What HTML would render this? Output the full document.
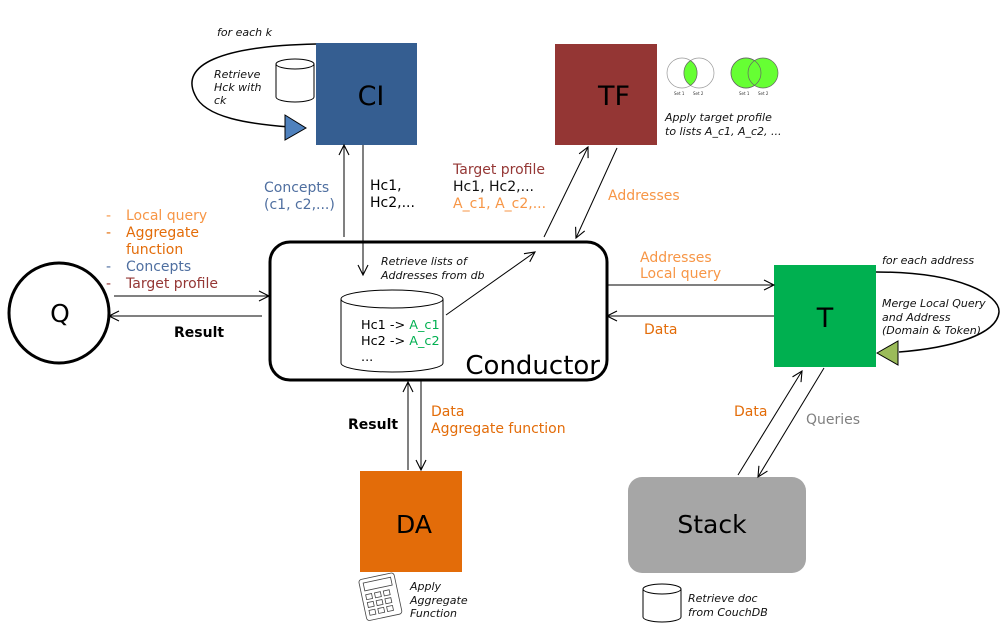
<!DOCTYPE html>
<html><head><meta charset="utf-8"><style>
body{margin:0;background:#fff}
svg{display:block;font-family:"DejaVu Sans","Liberation Sans",sans-serif}
.it{font-style:italic;font-size:11px;fill:#111}
.l{font-size:14px}
</style></head><body>
<svg width="1006" height="639" viewBox="0 0 1006 639">
<defs>
<marker id="a" markerWidth="14" markerHeight="14" refX="11" refY="6" orient="auto" markerUnits="userSpaceOnUse">
<path d="M1,1 L11,6 L1,11" fill="none" stroke="#000" stroke-width="1.1"/></marker>
</defs>
<rect x="0" y="0" width="1006" height="639" fill="#fff"/>

<!-- CI loop -->
<path d="M316,44 C220,46 180,65 195,95 C205,118 250,124 290,127" fill="none" stroke="#000" stroke-width="1.5"/>
<polygon points="285,115 306,128 285,140" fill="#4f81bd" stroke="#000" stroke-width="1"/>
<text x="217" y="36" class="it">for each k</text>
<text class="it"><tspan x="214" y="78">Retrieve</tspan><tspan x="214" y="91">Hck with</tspan><tspan x="214" y="104">ck</tspan></text>
<path d="M276,64 v33 a19,5 0 0 0 38,0 v-33" fill="#fff" stroke="#000"/>
<ellipse cx="295" cy="64" rx="19" ry="5" fill="#fff" stroke="#000"/>
<rect x="316" y="43" width="101" height="102" fill="#355e91"/>
<text x="371" y="105" font-size="27" text-anchor="middle" fill="#000">CI</text>

<!-- TF -->
<rect x="555" y="44" width="102" height="101" fill="#943634"/>
<text x="614" y="105" font-size="27" text-anchor="middle" fill="#000">TF</text>
<g stroke="#999" stroke-width="0.7">
<circle cx="682" cy="73" r="15" fill="#fff"/><circle cx="699" cy="73" r="15" fill="none"/>
<path d="M690.5,60.6 A15,15 0 0 1 690.5,85.4 A15,15 0 0 1 690.5,60.6Z" fill="#66ff33" stroke="#666"/>
<circle cx="746" cy="73" r="15" fill="#66ff33" stroke="#666"/><circle cx="763" cy="73" r="15" fill="#66ff33" stroke="#666"/>
<circle cx="746" cy="73" r="15" fill="none" stroke="#666"/>
</g>
<text font-size="4" fill="#333"><tspan x="674" y="95">Set 1</tspan><tspan x="693" y="95">Set 2</tspan><tspan x="739" y="95">Set 1</tspan><tspan x="758" y="95">Set 2</tspan></text>
<text class="it"><tspan x="665" y="121">Apply target profile</tspan><tspan x="665" y="135">to lists A_c1, A_c2, ...</tspan></text>

<!-- Q -->
<circle cx="59" cy="313" r="50" fill="#fff" stroke="#000" stroke-width="3"/>
<text x="60" y="322" font-size="25" text-anchor="middle">Q</text>
<line x1="114" y1="296" x2="269" y2="296" stroke="#000" marker-end="url(#a)"/>
<line x1="262" y1="316" x2="109" y2="316" stroke="#000" marker-end="url(#a)"/>
<text class="l" fill="#f79646" x="106" y="220">-</text><text class="l" fill="#f79646" x="126" y="220">Local query</text>
<text class="l" fill="#e36c09" x="106" y="237">-</text><text class="l" fill="#e36c09" x="126" y="237">Aggregate</text>
<text class="l" fill="#e36c09" x="126" y="254">function</text>
<text class="l" fill="#4f6fa0" x="106" y="271">-</text><text class="l" fill="#4f6fa0" x="126" y="271">Concepts</text>
<text class="l" fill="#953735" x="106" y="288">-</text><text class="l" fill="#953735" x="126" y="288">Target profile</text>
<text x="174" y="337" font-size="14" font-weight="bold">Result</text>

<!-- Conductor -->
<rect x="270" y="242" width="337" height="138" rx="20" fill="#fff" stroke="#000" stroke-width="3"/>
<text x="600" y="374" font-size="26" text-anchor="end">Conductor</text>
<path d="M341,299 v64 a51,9 0 0 0 102,0 v-64" fill="#fff" stroke="#000"/>
<ellipse cx="392" cy="299" rx="51" ry="9" fill="#fff" stroke="#000"/>
<text font-size="12.8"><tspan x="361" y="329">Hc1 -&gt; <tspan fill="#00b050">A_c1</tspan></tspan><tspan x="361" y="345">Hc2 -&gt; <tspan fill="#00b050">A_c2</tspan></tspan><tspan x="361" y="361">...</tspan></text>
<text class="it"><tspan x="381" y="265">Retrieve lists of</tspan><tspan x="381" y="279">Addresses from db</tspan></text>
<line x1="446" y1="315" x2="535" y2="252" stroke="#000" marker-end="url(#a)"/>

<!-- CI arrows -->
<line x1="344" y1="237" x2="344" y2="145" stroke="#000" marker-end="url(#a)"/>
<line x1="363" y1="145" x2="363" y2="275" stroke="#000" marker-end="url(#a)"/>
<text class="l" fill="#4f6fa0"><tspan x="264" y="192">Concepts</tspan><tspan x="264" y="209">(c1, c2,...)</tspan></text>
<text class="l"><tspan x="370" y="190">Hc1,</tspan><tspan x="370" y="207">Hc2,...</tspan></text>

<!-- TF arrows -->
<line x1="544" y1="237" x2="588" y2="147" stroke="#000" marker-end="url(#a)"/>
<line x1="617" y1="148" x2="576" y2="238" stroke="#000" marker-end="url(#a)"/>
<text class="l"><tspan x="453" y="174" fill="#953735">Target profile</tspan><tspan x="453" y="191" fill="#111">Hc1, Hc2,...</tspan><tspan x="453" y="208" fill="#f79646">A_c1, A_c2,...</tspan></text>
<text x="608" y="200" class="l" fill="#f79646">Addresses</text>

<!-- T -->
<rect x="774" y="265" width="102" height="102" fill="#00b050"/>
<text x="825" y="327" font-size="27" text-anchor="middle">T</text>
<line x1="607" y1="285" x2="774" y2="285" stroke="#000" marker-end="url(#a)"/>
<line x1="774" y1="316" x2="607" y2="316" stroke="#000" marker-end="url(#a)"/>
<text class="l" fill="#f79646"><tspan x="640" y="262">Addresses</tspan><tspan x="640" y="278">Local query</tspan></text>
<text x="644" y="334" class="l" fill="#e36c09">Data</text>
<path d="M876,272 C960,272 1000,295 999,312 C997,335 950,348 899,352" fill="none" stroke="#000" stroke-width="1.5"/>
<polygon points="877,353 898,341 898,365" fill="#9bbb59" stroke="#000" stroke-width="1"/>
<text x="882" y="264" class="it">for each address</text>
<text class="it"><tspan x="882" y="307">Merge Local Query</tspan><tspan x="882" y="321">and Address</tspan><tspan x="882" y="334">(Domain &amp; Token)</tspan></text>

<!-- Stack -->
<rect x="628" y="477" width="178" height="96" rx="14" fill="#a6a6a6"/>
<text x="712" y="533" font-size="25" text-anchor="middle">Stack</text>
<line x1="738" y1="475" x2="802" y2="371" stroke="#000" marker-end="url(#a)"/>
<line x1="824" y1="368" x2="758" y2="477" stroke="#000" marker-end="url(#a)"/>
<text x="734" y="416" class="l" fill="#e36c09">Data</text>
<text x="806" y="424" class="l" fill="#808080">Queries</text>
<path d="M643,589 v28 a19,5 0 0 0 38,0 v-28" fill="#fff" stroke="#000"/>
<ellipse cx="662" cy="589" rx="19" ry="5" fill="#fff" stroke="#000"/>
<text class="it"><tspan x="688" y="602">Retrieve doc</tspan><tspan x="688" y="616">from CouchDB</tspan></text>

<!-- DA -->
<rect x="360" y="471" width="102" height="101" fill="#e36c09"/>
<text x="414" y="533" font-size="25" text-anchor="middle">DA</text>
<line x1="408" y1="470" x2="408" y2="382" stroke="#000" marker-end="url(#a)"/>
<line x1="421" y1="381" x2="421" y2="470" stroke="#000" marker-end="url(#a)"/>
<text x="348" y="429" font-size="14" font-weight="bold">Result</text>
<text class="l" fill="#e36c09"><tspan x="431" y="416">Data</tspan><tspan x="431" y="433">Aggregate function</tspan></text>
<g transform="translate(358,578) rotate(-12)" stroke="#444" fill="none" stroke-width="0.8">
<rect x="0" y="2" width="36" height="42" rx="3"/>
<rect x="4" y="6" width="28" height="8"/>
<rect x="4" y="18" width="6" height="5"/><rect x="13" y="18" width="6" height="5"/><rect x="22" y="18" width="6" height="5"/>
<rect x="4" y="26" width="6" height="5"/><rect x="13" y="26" width="6" height="5"/><rect x="22" y="26" width="6" height="5"/>
<rect x="4" y="34" width="6" height="5"/><rect x="13" y="34" width="6" height="5"/><rect x="22" y="34" width="6" height="5"/>
</g>
<text class="it"><tspan x="410" y="590">Apply</tspan><tspan x="410" y="604">Aggregate</tspan><tspan x="410" y="617">Function</tspan></text>
</svg>
</body></html>
